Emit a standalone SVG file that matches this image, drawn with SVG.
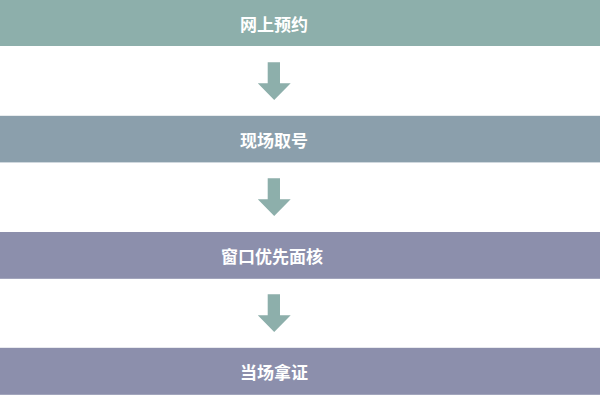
<svg xmlns="http://www.w3.org/2000/svg" width="600" height="400" viewBox="0 0 600 400">
<style>
.lbl{font-family:"Noto Sans CJK SC","Noto Sans",sans-serif;font-size:17px;font-weight:bold;fill:#ffffff;text-anchor:middle;dominant-baseline:central}
.arr{fill:#8dafab}
</style>
<defs>
<path id="arrow" d="M267.7 62.3H280V83.3H290.7L274.2 100L257.8 83.3H267.7Z"/>
</defs>
<rect width="600" height="400" fill="#ffffff"/>
<g id="step1"><rect x="0" y="0" width="600" height="46" fill="#8dafab"/><text class="lbl" x="274" y="23.5">网上预约</text></g>
<g id="step2"><rect x="0" y="115.8" width="600" height="46.6" fill="#8b9fac"/><text class="lbl" x="274" y="139.5">现场取号</text></g>
<g id="step3"><rect x="0" y="232" width="600" height="46.8" fill="#8c8fac"/><text class="lbl" x="272" y="255.5">窗口优先面核</text></g>
<g id="step4"><rect x="0" y="347.8" width="600" height="47" fill="#8c8fac"/><text class="lbl" x="274" y="371.5">当场拿证</text></g>
<g id="connectors" class="arr">
<use href="#arrow"/>
<use href="#arrow" y="116"/>
<use href="#arrow" y="232"/>
</g>
</svg>
